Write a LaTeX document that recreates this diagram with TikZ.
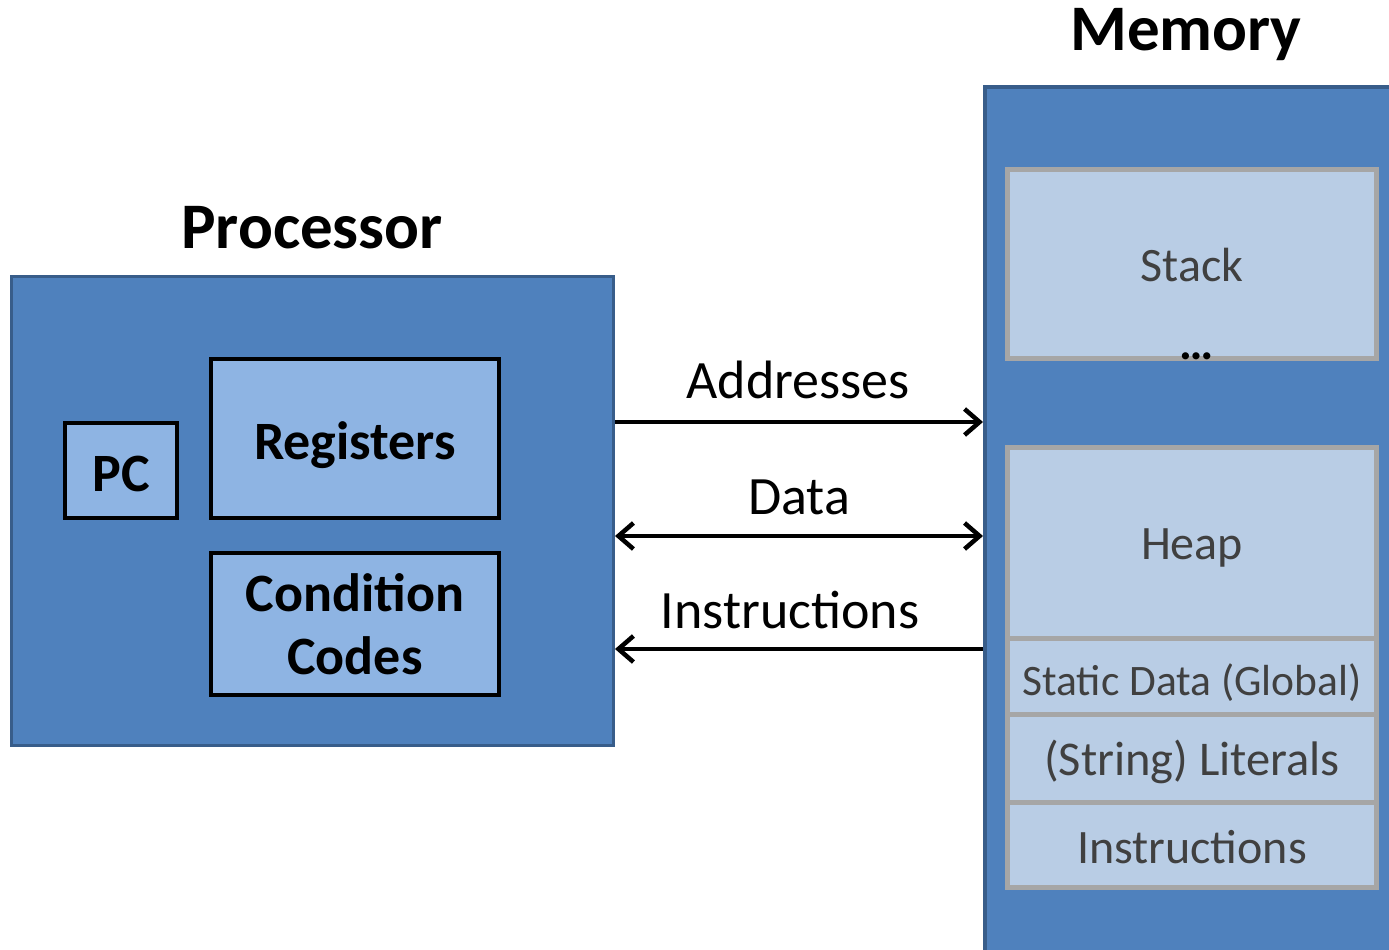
\documentclass[tikz,border=0pt]{standalone}
\usepackage{fontspec}
\setmainfont{Carlito}
\usetikzlibrary{arrows.meta}

\definecolor{unitblue}{HTML}{4F81BD}
\definecolor{unitedge}{HTML}{385D8A}
\definecolor{partblue}{HTML}{8EB4E3}
\definecolor{segfill}{HTML}{B9CDE5}
\definecolor{segedge}{HTML}{A6A6A6}
\definecolor{segtext}{HTML}{404040}

\tikzset{
  unit/.style={draw=unitedge, fill=unitblue, line width=3pt, inner sep=0pt},
  part/.style={draw=black, fill=partblue, line width=4pt, inner sep=0pt,
    align=center, font=\fontsize{54}{64}\selectfont\bfseries},
  oneline/.style={text height=41pt, text depth=0pt},
  segment/.style={draw=segedge, fill=segfill, line width=5pt, inner sep=0pt,
    text=segtext, minimum width=369pt, text height=34pt, text depth=0pt},
  title/.style={font=\fontsize{65}{75}\selectfont\bfseries, anchor=base},
  buslabel/.style={font=\fontsize{54}{62}\selectfont, anchor=base},
  barb/.tip={Straight Barb[length=15pt,width=26pt,line width=4.5pt]},
  bus/.style={line width=4.5pt, arrows={-barb}},
}

\begin{document}
\begin{tikzpicture}[x=1pt, y=-1pt]
  \useasboundingbox (0,0) rectangle (1389,950);
  \clip (0,0) rectangle (1389,950);

  % processor
  \node[title] (proctitle) at (312,248) {Processor};
  \node[unit, minimum width=602pt, minimum height=469pt] (proc) at (312.5,511) {};
  \node[part, oneline, minimum width=112pt, minimum height=95pt] (pc) at (121,470.5) {PC};
  \node[part, oneline, minimum width=288pt, minimum height=159pt] (regs) at (355,438.5) {Registers};
  \node[part, minimum width=288pt, minimum height=142pt] (cc) at (355,624) {Condition\\[-1pt]Codes};

  % memory
  \node[title] (memtitle) at (1186,51) {Memory};
  \node[unit, line width=4pt, minimum width=415pt, minimum height=913pt] (mem) at (1192.5,543.5) {};
  \node[segment, minimum height=189pt, font=\fontsize{48}{56}\selectfont] (stack) at (1192,264) {Stack};
  \node[font=\fontsize{48}{56}\selectfont\bfseries, anchor=base] (dots) at (1197,359) {…};
  \node[segment, minimum height=190.5pt, font=\fontsize{48}{56}\selectfont] (heap) at (1192,542.75) {Heap};
  \node[segment, text height=39pt, minimum height=76pt, font=\fontsize{43.5}{52}\selectfont] (static) at (1192,676) {Static Data (Global)};
  \node[segment, minimum height=88pt, font=\fontsize{48.5}{56}\selectfont] (literals) at (1192,758) {(String) Literals};
  \node[segment, text height=38pt, minimum height=85.5pt, font=\fontsize{48}{56}\selectfont] (instr) at (1192,844.75) {Instructions};

  % buses between processor and memory
  \node[buslabel] (addrlabel) at (798,398) {Addresses};
  \node[buslabel] (datalabel) at (799,514) {Data};
  \node[buslabel] (instrlabel) at (790,628) {Instructions};

  \draw[bus] (proc.east |- 0,422) -- (mem.west |- 0,422);
  \draw[bus, arrows={barb-barb}] (proc.east |- 0,536) -- (mem.west |- 0,536);
  \draw[bus] (mem.west |- 0,649) -- (proc.east |- 0,649);
\end{tikzpicture}
\end{document}
